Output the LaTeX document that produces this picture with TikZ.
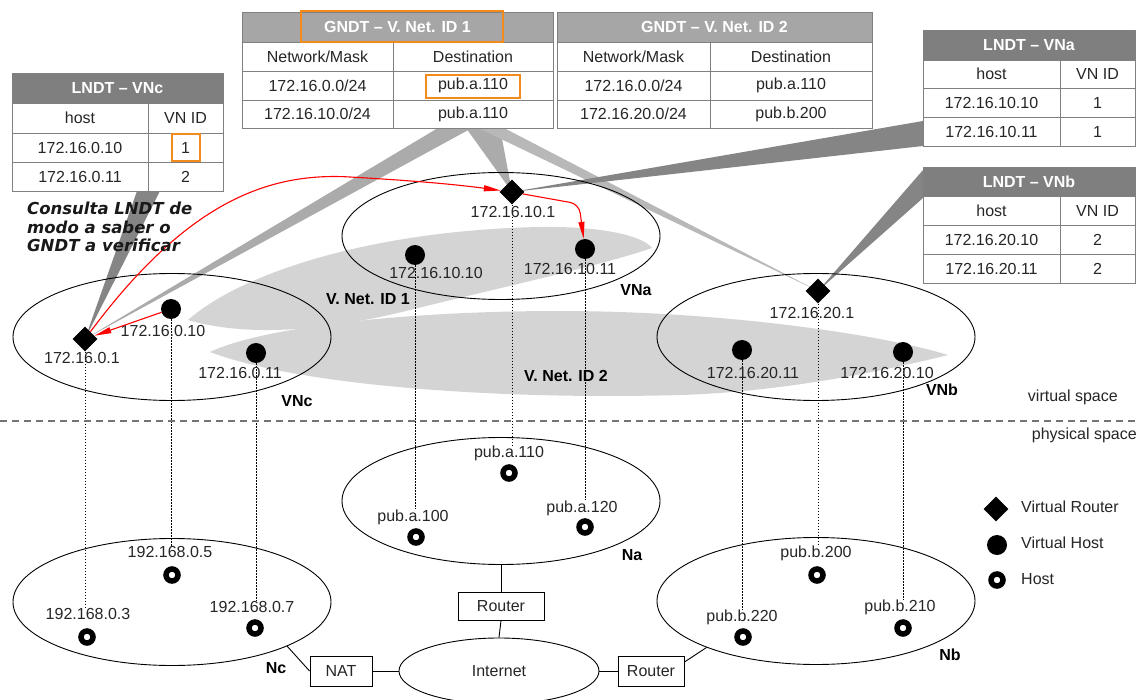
\documentclass[tikz,border=0pt]{standalone}
\usepackage{fontspec}
\setmainfont{Liberation Sans}
\newfontfamily\notefont{DejaVu Sans}
\usetikzlibrary{shapes.geometric,arrows.meta}
\definecolor{hlorange}{HTML}{F28A1E}
\definecolor{bandgray}{HTML}{D4D4D4}
\definecolor{beamlight}{HTML}{ABABAB}
\definecolor{beamdark}{HTML}{858585}
\definecolor{hdrlight}{HTML}{A6A6A6}
\definecolor{hdrdark}{HTML}{7F7F7F}
\pgfdeclarelayer{background}
\pgfsetlayers{background,main}

% table grid: x-left, x-split, x-right, y-top, y-header, y-row1, y-row2, y-bottom, header colour
\newcommand\ndgrid[9]{%
  \fill[white] (#1,#4) rectangle (#3,#8);
  \fill[#9] (#1,#4) rectangle (#3,#5);
  \draw[tabline] (#1,#4) rectangle (#3,#8)
    (#1,#5) -- (#3,#5) (#1,#6) -- (#3,#6) (#1,#7) -- (#3,#7) (#2,#5) -- (#2,#8);
}

\begin{document}
\begin{tikzpicture}[x=1pt,y=-1pt,
  lbl/.style={font=\fontsize{16}{19}\selectfont, inner sep=0pt, text=black!85},
  blbl/.style={font=\fontsize{16}{19}\selectfont\bfseries, inner sep=0pt},
  hdr/.style={font=\fontsize{16}{19}\selectfont\bfseries, text=white, inner sep=0pt},
  cell/.style={font=\fontsize{16}{19}\selectfont, inner sep=0pt, text=black!85},
  net/.style={ellipse, draw, line width=0.9pt, minimum width=318pt, minimum height=127pt, inner sep=0pt},
  vrouter/.style={diamond, fill=black, minimum size=25pt, inner sep=0pt},
  vhost/.style={circle, fill=black, minimum size=20pt, inner sep=0pt},
  phost/.style={circle, draw=black, line width=5.5pt, minimum size=12pt, inner sep=0pt},
  boxnode/.style={rectangle, draw, line width=0.9pt, fill=white, font=\fontsize{16}{19}\selectfont, text=black!85, minimum height=28pt, inner sep=0pt},
  vlink/.style={dash pattern=on 1.4pt off 1.6pt, line width=1pt},
  redarrow/.style={draw=red, line width=1.1pt, -{Triangle[length=17pt,width=6pt]}},
  hl/.style={draw=hlorange, line width=2.6pt},
  tabline/.style={draw=black!50, line width=0.8pt},
  wire/.style={draw, line width=0.9pt},
]
\useasboundingbox (0,0) rectangle (1140,700);

% ---------- virtual routers and hosts ----------
\node[vrouter] (vr0) at (85,339) {};
\node[vrouter] (vr10) at (512,192) {};
\node[vrouter] (vr20) at (818,291) {};
\node[vhost] (vh010) at (171,309) {};
\node[vhost] (vh011) at (256,353) {};
\node[vhost] (vh1010) at (415,255) {};
\node[vhost] (vh1011) at (585,249) {};
\node[vhost] (vh2011) at (742,350) {};
\node[vhost] (vh2010) at (903,352) {};

\node[lbl] (vr0l) at (82,358) {172.16.0.1};
\node[lbl] (vh010l) at (163,331) {172.16.0.10};
\node[lbl] (vh011l) at (240,373) {172.16.0.11};
\node[lbl] (vr10l) at (513,212) {172.16.10.1};
\node[lbl] (vh1010l) at (436,273) {172.16.10.10};
\node[lbl] (vh1011l) at (570,269) {172.16.10.11};
\node[lbl] (vr20l) at (812,313) {172.16.20.1};
\node[lbl] (vh2011l) at (753,373) {172.16.20.11};
\node[lbl] (vh2010l) at (887,373) {172.16.20.10};

% ---------- physical hosts ----------
\node[phost] (h3) at (87,637) {};
\node[phost] (h5) at (172,575) {};
\node[phost] (h7) at (255,628) {};
\node[phost] (a110) at (509,473) {};
\node[phost] (a100) at (416,537) {};
\node[phost] (a120) at (585,527) {};
\node[phost] (b200) at (817,575) {};
\node[phost] (b220) at (743,637) {};
\node[phost] (b210) at (903,628) {};

\node[lbl] (h3l) at (88,614) {192.168.0.3};
\node[lbl] (h5l) at (170,552) {192.168.0.5};
\node[lbl] (h7l) at (252,607) {192.168.0.7};
\node[lbl] (a110l) at (509,453) {pub.a.110};
\node[lbl] (a100l) at (413,517) {pub.a.100};
\node[lbl] (a120l) at (582,508) {pub.a.120};
\node[lbl] (b200l) at (816,553) {pub.b.200};
\node[lbl] (b220l) at (742,617) {pub.b.220};
\node[lbl] (b210l) at (900,607) {pub.b.210};

% ---------- table attachment points ----------
\coordinate (vnc-b1) at (137,191);
\coordinate (vnc-b2) at (160,191);
\coordinate (g-a1) at (438,128);
\coordinate (g-a2) at (472,128);
\coordinate (g-b1) at (466,128);
\coordinate (g-b2) at (500,128);
\coordinate (g-c1) at (478,128);
\coordinate (g-c2) at (504,128);
\coordinate (vna-b1) at (923,121);
\coordinate (vna-b2) at (923,146);
\coordinate (vnb-b1) at (923,170);
\coordinate (vnb-b2) at (923,198);

\begin{pgfonlayer}{background}
  \fill[white] (0,0) rectangle (1140,700);
  % virtual network groups
  \fill[bandgray] (188,320) .. controls (245,270) and (380,230) .. (540,227)
    .. controls (610,226) and (645,238) .. (652,248)
    .. controls (600,266) and (490,290) .. (410,310)
    .. controls (330,330) and (250,338) .. (188,320) -- cycle;
  \fill[bandgray] (210,352) .. controls (260,328) and (400,311) .. (560,311)
    .. controls (720,311) and (880,334) .. (948,355)
    .. controls (880,372) and (780,392) .. (680,395)
    .. controls (500,400) and (300,386) .. (210,352) -- cycle;
  % table look-up beams
  \fill[beamlight] (g-a1) -- (g-a2) -- (vr0.center) -- cycle;
  \fill[beamlight] (g-b1) -- (g-b2) -- (vr10.center) -- cycle;
  \fill[beamlight!85] (g-c1) -- (g-c2) -- (vr20.center) -- cycle;
  \fill[beamdark] (vnc-b1) -- (vnc-b2) -- (vr0.center) -- cycle;
  \fill[beamdark] (vna-b1) -- (vna-b2) -- (vr10.center) -- cycle;
  \fill[beamdark] (vnb-b1) -- (vnb-b2) -- (vr20.center) -- cycle;
  % virtual-to-physical mapping
  \draw[vlink] (vr0) -- (vr0 |- h3l.north);
  \draw[vlink] (vh010) -- (vh010 |- h5l.north);
  \draw[vlink] (vh011) -- (vh011 |- h7l.north);
  \draw[vlink] (vh1010) -- (vh1010 |- a100l.north);
  \draw[vlink] (vr10) -- (vr10 |- a110l.north);
  \draw[vlink] (vh1011) -- (vh1011 |- a120l.north);
  \draw[vlink] (vh2011) -- (vh2011 |- b220l.north);
  \draw[vlink] (vr20) -- (vr20 |- b200l.north);
  \draw[vlink] (vh2010) -- (vh2010 |- b210l.north);
  % virtual / physical separator
  \draw[black!55, line width=1.1pt, dash pattern=on 7pt off 5pt] (0,421) -- (1140,421);
\end{pgfonlayer}

% ---------- networks ----------
\node[net] (VNc) at (172,337) {};
\node[net] (VNa) at (501,236) {};
\node[net] (VNb) at (816,337) {};
\node[net] (Na) at (501,501) {};
\node[net] (Nb) at (816,601) {};
\node[net] (Nc) at (172,602) {};
\node[ellipse, draw, line width=0.9pt, minimum width=200pt, minimum height=66pt, inner sep=0pt,
      font=\fontsize{16}{19}\selectfont, text=black!85] (inet) at (499,671) {Internet};

\node[blbl] (VNcl) at (297,401) {VNc};
\node[blbl] (VNal) at (636,290) {VNa};
\node[blbl] (VNbl) at (942,390) {VNb};
\node[blbl] (Nal) at (632,555) {Na};
\node[blbl] (Nbl) at (950,655) {Nb};
\node[blbl] (Ncl) at (276,668) {Nc};
\node[blbl] (vnet1) at (368,299) {V. Net. ID 1};
\node[blbl] (vnet2) at (566,376) {V. Net. ID 2};

\node[lbl, anchor=east] (vspace) at (1118,397) {virtual space};
\node[lbl, anchor=east] (pspace) at (1137,435) {physical space};

% ---------- physical links ----------
\node[boxnode, minimum width=86pt] (rtm) at (501,606) {Router};
\node[boxnode, minimum width=62pt, minimum height=30pt] (nat) at (341,671) {NAT};
\node[boxnode, minimum width=66pt, minimum height=30pt] (rtr) at (651,671) {Router};
\draw[wire] (rtm.north) -- (Na.south);
\draw[wire] (rtm.south) -- (inet.north);
\draw[wire] (Nc.-21) -- (nat.west);
\draw[wire] (nat.east) -- (inet.west);
\draw[wire] (inet.east) -- (rtr.west);
\draw[wire] (rtr.15) -- (Nb.-157);

% ---------- lookup path ----------
\draw[redarrow] (vh010) -- (vr0);
\draw[redarrow] (vr0) .. controls (185,205) and (265,172) .. (350,177)
  .. controls (420,181) and (460,185) .. (vr10);
\draw[redarrow, rounded corners=9pt] (vr10) -- (579,204) -- (vh1011);

\node[font=\notefont\fontsize{16.5}{18.5}\selectfont\bfseries\itshape, align=left, anchor=north west,
      inner sep=0pt, text=black!90] (note) at (27,202)
  {Consulta LNDT de\\modo a saber o\\GNDT a verificar};

% ---------- legend ----------
\node[vrouter] (lgr) at (996,509) {};
\node[vhost] (lgv) at (997,545) {};
\node[phost] (lgh) at (997,580) {};
\node[lbl, anchor=west] (lgrt) at (1021,507) {Virtual Router};
\node[lbl, anchor=west] (lgvt) at (1021,543) {Virtual Host};
\node[lbl, anchor=west] (lght) at (1021,579) {Host};

% ---------- tables ----------
% GNDT - V. Net. ID 1
\ndgrid{242}{393}{553}{12}{42}{71}{100}{128}{hdrlight}
\node[hdr] (g1h) at (397.5,27) {GNDT \textendash\ V. Net. ID 1};
\node[cell] (g1a) at (317.5,56.5) {Network/Mask};
\node[cell] (g1b) at (473,56.5) {Destination};
\node[cell] (g1c) at (317.5,85.5) {172.16.0.0/24};
\node[cell] (g1d) at (473,85.5) {pub.a.110};
\node[cell] (g1e) at (317.5,114) {172.16.10.0/24};
\node[cell] (g1f) at (473,114) {pub.a.110};
\draw[hl] (301,11) rectangle (503,42);
\draw[hl] (426,75) rectangle (520,98);
% GNDT - V. Net. ID 2
\ndgrid{557}{710}{872}{12}{42}{71}{100}{128}{hdrlight}
\node[hdr] (g2h) at (714.5,27) {GNDT \textendash\ V. Net. ID 2};
\node[cell] (g2a) at (633.5,56.5) {Network/Mask};
\node[cell] (g2b) at (791,56.5) {Destination};
\node[cell] (g2c) at (633.5,85.5) {172.16.0.0/24};
\node[cell] (g2d) at (791,85.5) {pub.a.110};
\node[cell] (g2e) at (633.5,114) {172.16.20.0/24};
\node[cell] (g2f) at (791,114) {pub.b.200};
% LNDT - VNc
\ndgrid{12}{148}{223}{73}{103}{133}{162}{191}{hdrdark}
\node[hdr] (lch) at (117.5,88) {LNDT \textendash\ VNc};
\node[cell] (lca) at (80,118) {host};
\node[cell] (lcb) at (185.5,118) {VN ID};
\node[cell] (lcc) at (80,147.5) {172.16.0.10};
\node[cell] (lcd) at (185.5,147.5) {1};
\node[cell] (lce) at (80,176.5) {172.16.0.11};
\node[cell] (lcf) at (185.5,176.5) {2};
\draw[hl] (172,134) rectangle (200,161);
% LNDT - VNa
\ndgrid{923}{1060}{1135}{30}{60}{88}{117}{146}{hdrdark}
\node[hdr] (lah) at (1029,45) {LNDT \textendash\ VNa};
\node[cell] (laa) at (991.5,74) {host};
\node[cell] (lab) at (1097.5,74) {VN ID};
\node[cell] (lac) at (991.5,102.5) {172.16.10.10};
\node[cell] (lad) at (1097.5,102.5) {1};
\node[cell] (lae) at (991.5,131.5) {172.16.10.11};
\node[cell] (laf) at (1097.5,131.5) {1};
% LNDT - VNb
\ndgrid{923}{1060}{1135}{167}{196}{225}{254}{283}{hdrdark}
\node[hdr] (lbh) at (1029,181.5) {LNDT \textendash\ VNb};
\node[cell] (lba) at (991.5,210.5) {host};
\node[cell] (lbb) at (1097.5,210.5) {VN ID};
\node[cell] (lbc) at (991.5,239.5) {172.16.20.10};
\node[cell] (lbd) at (1097.5,239.5) {2};
\node[cell] (lbe) at (991.5,268.5) {172.16.20.11};
\node[cell] (lbf) at (1097.5,268.5) {2};
\end{tikzpicture}
\end{document}
